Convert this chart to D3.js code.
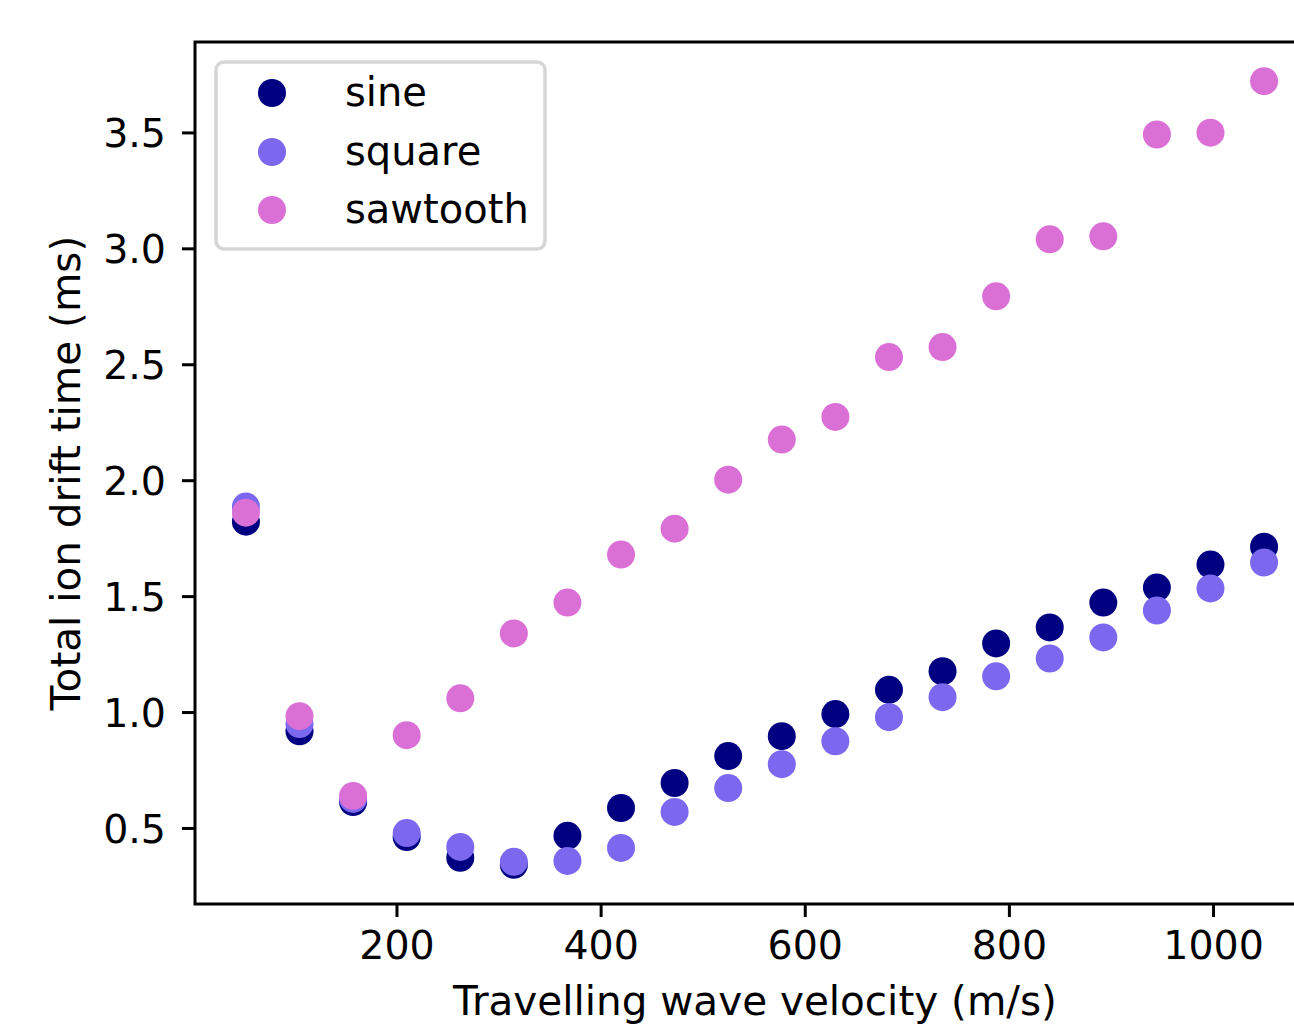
<!DOCTYPE html>
<html>
<head>
<meta charset="utf-8">
<script src="https://cdn.jsdelivr.net/npm/d3@7"></script>
<style>
  html, body { margin: 0; padding: 0; background: #fff; overflow: hidden; }
  text { font-family: "DejaVu Sans", sans-serif; fill: #000; }
</style>
</head>
<body>
<div id="chart"></div>
<script>
const width = 1294;
const height = 1025;

// travelling wave velocity (m/s)
const velocities = [52.5, 105, 157.5, 210, 262.5, 315, 367.5, 420, 472.5, 525,
  577.5, 630, 682.5, 735, 787.5, 840, 892.5, 945, 997.5, 1050];

// total ion drift time (ms)
const sineTimes = [1.821, 0.917, 0.612, 0.461, 0.371, 0.341, 0.466, 0.586, 0.694, 0.81,
  0.896, 0.991, 1.096, 1.176, 1.296, 1.365, 1.472, 1.537, 1.636, 1.713];
const squareTimes = [1.886, 0.948, 0.625, 0.478, 0.418, 0.354, 0.358, 0.414, 0.569, 0.672,
  0.775, 0.874, 0.978, 1.064, 1.154, 1.231, 1.322, 1.438, 1.533, 1.645];
const sawtoothTimes = [1.86, 0.982, 0.638, 0.9, 1.059, 1.339, 1.472, 1.679, 1.791, 2.002,
  2.175, 2.273, 2.531, 2.574, 2.793, 3.039, 3.052, 3.491, 3.499, 3.721];

const seriesNames = ["sine", "square", "sawtooth"];
const seriesColors = ["#000080", "#7b68ee", "#da70d6"];

const xTicks = [200, 400, 600, 800, 1000];
const yTicks = [0.5, 1.0, 1.5, 2.0, 2.5, 3.0, 3.5];

const plot = { left: 195, right: 1315, top: 42, bottom: 904 };
const tickFont = 39.5;
const labelFont = 40.5;
const legendFont = 40;
const markerR = 14;

const svg = d3
  .select("#chart")
  .append("svg")
  .attr("width", width)
  .attr("height", height);

const xScale = d3.scaleLinear().domain([2.6, 1099.9]).range([plot.left, plot.right]);
const yScale = d3.scaleLinear().domain([0.172, 3.89]).range([plot.bottom, plot.top]);

// points, drawn in series order so sawtooth sits on top
const allSeries = [sineTimes, squareTimes, sawtoothTimes];
allSeries.forEach((vals, i) => {
  svg
    .append("g")
    .selectAll("circle")
    .data(vals)
    .enter()
    .append("circle")
    .attr("cx", (d, j) => xScale(velocities[j]))
    .attr("cy", (d) => yScale(d))
    .attr("r", markerR)
    .attr("fill", seriesColors[i]);
});

// axes
const xAxis = d3.axisBottom(xScale).tickValues(xTicks).tickSize(13).tickPadding(14).tickFormat(d3.format("d"));
const gx = svg
  .append("g")
  .attr("transform", `translate(0, ${plot.bottom})`)
  .call(xAxis);

const yAxis = d3.axisLeft(yScale).tickValues(yTicks).tickSize(13).tickPadding(16).tickFormat(d3.format(".1f"));
const gy = svg
  .append("g")
  .attr("transform", `translate(${plot.left}, 0)`)
  .call(yAxis);

[gx, gy].forEach((g) => {
  g.select(".domain").remove();
  g.selectAll(".tick line").attr("stroke", "#000").attr("stroke-width", 3);
  g.selectAll(".tick text")
    .style("font-family", "DejaVu Sans")
    .style("font-size", tickFont + "px")
    .attr("fill", "#000");
});
gx.selectAll(".tick text").attr("dy", "0.71em");
gy.selectAll(".tick text").attr("dy", "0.36em");

// spines
svg
  .append("rect")
  .attr("x", plot.left)
  .attr("y", plot.top)
  .attr("width", plot.right - plot.left)
  .attr("height", plot.bottom - plot.top)
  .attr("fill", "none")
  .attr("stroke", "#000")
  .attr("stroke-width", 3);

// axis labels
svg
  .append("text")
  .attr("x", (plot.left + plot.right) / 2)
  .attr("y", 1015)
  .style("text-anchor", "middle")
  .style("font-size", labelFont + "px")
  .text("Travelling wave velocity (m/s)");

svg
  .append("text")
  .attr("transform", "rotate(-90)")
  .attr("x", -(plot.top + plot.bottom) / 2)
  .attr("y", 80)
  .style("text-anchor", "middle")
  .style("font-size", labelFont + "px")
  .text("Total ion drift time (ms)");

// legend
const legend = svg.append("g");
legend
  .append("rect")
  .attr("x", 216)
  .attr("y", 62)
  .attr("width", 329)
  .attr("height", 187)
  .attr("rx", 8)
  .attr("fill", "#fff")
  .attr("fill-opacity", 0.8)
  .attr("stroke", "#d6d6d6")
  .attr("stroke-width", 3.5);

const rowY = [93, 152, 210];
seriesNames.forEach((name, i) => {
  legend
    .append("circle")
    .attr("cx", 272)
    .attr("cy", rowY[i])
    .attr("r", markerR)
    .attr("fill", seriesColors[i]);
  legend
    .append("text")
    .attr("x", 345)
    .attr("y", rowY[i] + 13)
    .style("font-size", legendFont + "px")
    .text(name);
});
</script>
</body>
</html>
